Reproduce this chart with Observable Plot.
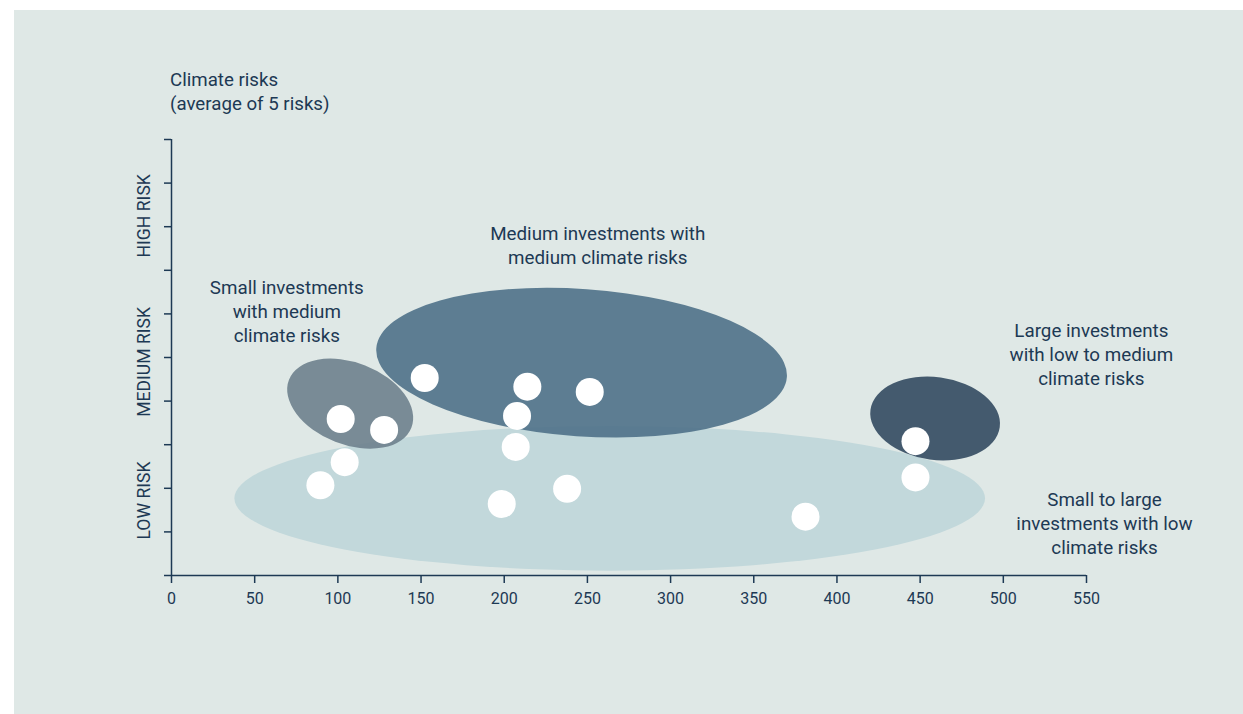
<!DOCTYPE html>
<html>
<head>
<meta charset="utf-8">
<script src="https://cdn.jsdelivr.net/npm/d3@7"></script>
<script src="https://cdn.jsdelivr.net/npm/@observablehq/plot@0.6"></script>
<style>
  html, body { margin: 0; padding: 0; background: #ffffff; }
  #wrap { position: absolute; left: 14px; top: 10px; width: 1229px; height: 704px; background: #dfe8e6; font-family: Roboto, sans-serif; color: #1d3954; overflow: hidden; }
  #title { position: absolute; left: 156px; top: 59px; font-size: 18.7px; line-height: 23.5px; }
  #chart { position: absolute; left: 0; top: 110px; }
</style>
</head>
<body>
<div id="wrap">
  <div id="title">Climate risks<br>(average of 5 risks)</div>
  <div id="chart"></div>
</div>
<script>
// ---- Data ----
const investX = [152.2, 101.7, 127.8, 213.9, 251.4, 207.7, 206.9, 104.1, 89.5, 198.5, 237.8, 447.2, 447.2, 381.1];
const riskY   = [4.53, 3.59, 3.34, 4.33, 4.21, 3.66, 2.95, 2.60, 2.07, 1.64, 1.99, 3.08, 2.25, 1.35];

const clusterNames = ["low", "small", "medium", "large"];
const clusterCX   = [263.7, 107.7, 246.8, 459.3];
const clusterCY   = [1.76, 3.93, 4.87, 3.59];
const clusterRX   = [225.6, 39.5, 123.7, 39.2];
const clusterRY   = [1.66, 0.94, 1.69, 0.95];
const clusterTilt = [0, 21.4, 4, 7.7];

const clusterLabels = [
  "Small to large\ninvestments with low\nclimate risks",
  "Small investments\nwith medium\nclimate risks",
  "Medium investments with\nmedium climate risks",
  "Large investments\nwith low to medium\nclimate risks"
];
const labelX = [560.8, 69.3, 256.2, 552.9];
const labelY = [1.23, 6.08, 7.6, 5.1];

const riskLevels = ["LOW RISK", "MEDIUM RISK", "HIGH RISK"];
const riskLevelY = [1.72, 4.9, 8.25];

const xTicks = [0, 50, 100, 150, 200, 250, 300, 350, 400, 450, 500, 550];
const yTicks = [0, 1, 2, 3, 4, 5, 6, 7, 8, 9, 10];

// ---- Styles ----
const ink = "#1d3954";
const clusterFill = {low: "#c2d8db", small: "#6e818d", medium: "#4f7188", large: "#334a60"};
const clusterOpacity = {low: 1, small: 0.9, medium: 0.9, large: 0.9};

function clusterMark(index, scales) {
  const g = d3.create("svg:g");
  clusterNames.forEach((name, i) => {
    const cx = scales.x(clusterCX[i]);
    const cy = scales.y(clusterCY[i]);
    const rx = Math.abs(scales.x(clusterCX[i] + clusterRX[i]) - cx);
    const ry = Math.abs(scales.y(clusterCY[i] + clusterRY[i]) - cy);
    g.append("ellipse")
      .attr("cx", cx).attr("cy", cy)
      .attr("rx", rx).attr("ry", ry)
      .attr("transform", `rotate(${clusterTilt[i]} ${cx} ${cy})`)
      .attr("fill", clusterFill[name])
      .attr("fill-opacity", clusterOpacity[name]);
  });
  return g.node();
}

const points = investX.map((x, i) => ({x, y: riskY[i]}));

const chart = Plot.plot({
  width: 1229,
  height: 594,
  marginLeft: 157,
  marginRight: 157,
  marginTop: 19,
  marginBottom: 139,
  style: {background: "transparent", fontFamily: "Roboto, sans-serif", fontSize: "16px", color: ink, overflow: "visible"},
  x: {domain: [0, 550]},
  y: {domain: [0, 10]},
  marks: [
    clusterMark,
    Plot.ruleY([0], {stroke: ink, strokeWidth: 1.5}),
    Plot.ruleX([0], {stroke: ink, strokeWidth: 1.5}),
    Plot.axisX({ticks: xTicks, tickSize: 8, tickPadding: 9, tickFormat: d => String(d), label: null, strokeWidth: 1.5, fontSize: 16}),
    Plot.axisY({ticks: yTicks, tickSize: 7, tickFormat: () => "", label: null, strokeWidth: 1.5}),
    Plot.text(riskLevels, {x: () => 0, y: (d, i) => riskLevelY[i], text: d => d, rotate: -90, dx: -27, fontSize: 17.6, fill: ink, textAnchor: "middle", lineAnchor: "middle"}),
    Plot.dot(points, {x: "x", y: "y", r: 14, fill: "white"}),
    Plot.text(clusterLabels, {x: (d, i) => labelX[i], y: (d, i) => labelY[i], text: d => d, fontSize: 18.8, lineHeight: 1.28, textAnchor: "middle", lineAnchor: "middle", fill: ink})
  ]
});
document.getElementById("chart").appendChild(chart);
</script>
</body>
</html>
